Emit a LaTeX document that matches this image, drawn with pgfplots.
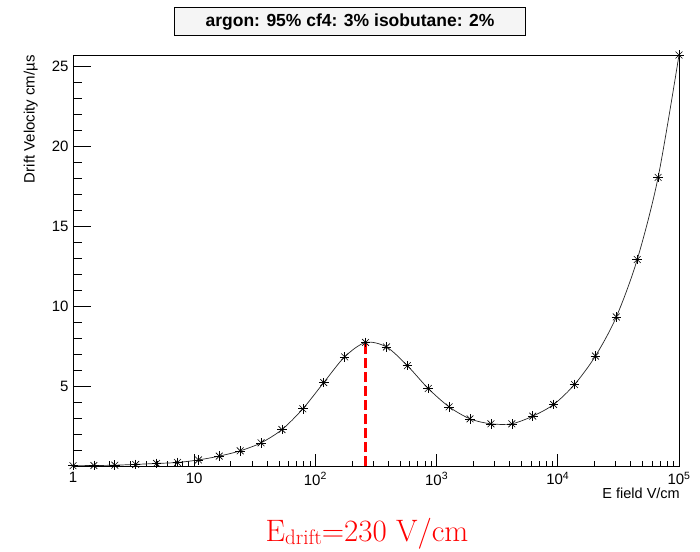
\documentclass[border=0pt]{standalone}
\usepackage{fontspec}
\usepackage{pgfplots}
\pgfplotsset{compat=1.18}
\newfontfamily\helv{Liberation Sans}
\pgfplotstableread{
x y
1 0.02
1.487 0.03
2.212 0.05
3.290 0.10
4.894 0.16
7.279 0.22
10.83 0.38
16.10 0.62
23.95 0.95
35.62 1.45
52.98 2.28
78.80 3.58
117.2 5.22
174.3 6.83
259.3 7.73
385.7 7.45
573.7 6.28
853.2 4.85
1269 3.70
1888 2.95
2807 2.64
4175 2.64
6210 3.12
9237 3.85
13738 5.10
20434 6.88
30392 9.33
45204 12.92
67234 18.06
100000 25.72
}\drift
\begin{document}
\begin{tikzpicture}
\path[use as bounding box] (0,0) rectangle (700pt,551pt);
% x ticks axis
\begin{axis}[
  scale only axis, width=606pt, height=411pt,
  at={(73pt,85pt)}, anchor=south west,
  xmode=log, xmin=1, xmax=100000, ymin=0, ymax=25.72,
  ytick=\empty,
  xtick={1,10,100,1000,10000,100000},
  xticklabels={1,10,10\textsuperscript{2},10\textsuperscript{3},10\textsuperscript{4},10\textsuperscript{5}},
  minor xtick={2,3,4,5,6,7,8,9,20,30,40,50,60,70,80,90,200,300,400,500,600,700,800,900,2000,3000,4000,5000,6000,7000,8000,9000,20000,30000,40000,50000,60000,70000,80000,90000},
  xtick pos=bottom, tick align=inside,
  major tick length=12pt, minor tick length=5pt,
  xticklabel style={font=\helv\fontsize{15}{15}\selectfont, yshift=-3pt},
  axis line style={line width=0.8pt},
  every tick/.style={black, line width=0.7pt},
]
\end{axis}
% data axis with y ticks
\begin{axis}[
  scale only axis, width=606pt, height=411pt,
  at={(73pt,85pt)}, anchor=south west,
  xmode=log, xmin=1, xmax=100000, ymin=0, ymax=25.72,
  xtick=\empty,
  ytick={5,10,15,20,25},
  minor ytick={1,2,3,4,6,7,8,9,11,12,13,14,16,17,18,19,21,22,23,24},
  ytick pos=left, tick align=inside,
  major tick length=18pt, minor tick length=9pt,
  /pgf/number format/assume math mode=true,
  yticklabel style={font=\helv\fontsize{15}{15}\selectfont, xshift=-1pt},
  axis line style={line width=0.8pt},
  every tick/.style={black, line width=0.7pt},
  clip=false,
]
\addplot[red, line width=3.5pt, dash pattern=on 10pt off 4pt] coordinates {(259.3,0) (259.3,7.73)};
\addplot[black!85, line width=0.7pt, smooth, tension=0.5, mark=none] table {\drift};
\addplot[only marks, mark=+, mark size=4.8pt, black, mark options={line width=0.6pt}] table {\drift};
\addplot[only marks, mark=x, mark size=4.8pt, black, mark options={line width=0.6pt}] table {\drift};
\end{axis}
\node[rotate=90, anchor=south east, font=\helv\fontsize{15}{15}\selectfont, inner sep=0pt] at (38pt,496pt) {Drift Velocity cm/µs};
\node[anchor=north east, font=\helv\fontsize{14.5}{14.5}\selectfont, inner sep=0pt] at (680pt,63pt) {E field V/cm};
\node[draw=black, line width=1pt, fill=gray!8, minimum width=351pt, minimum height=28pt, inner sep=0pt, font=\helv\bfseries\fontsize{17.5}{17.5}\selectfont] at (350pt,529pt) {argon: 95\% cf4: 3\% isobutane: 2\%};
\node[anchor=base, text=red, font=\fontsize{31}{31}\selectfont, inner sep=0pt] at (367pt,10pt) {E\raisebox{-0.28ex}{\fontsize{21}{21}\selectfont drift}=230 V/cm};
\end{tikzpicture}
\end{document}
